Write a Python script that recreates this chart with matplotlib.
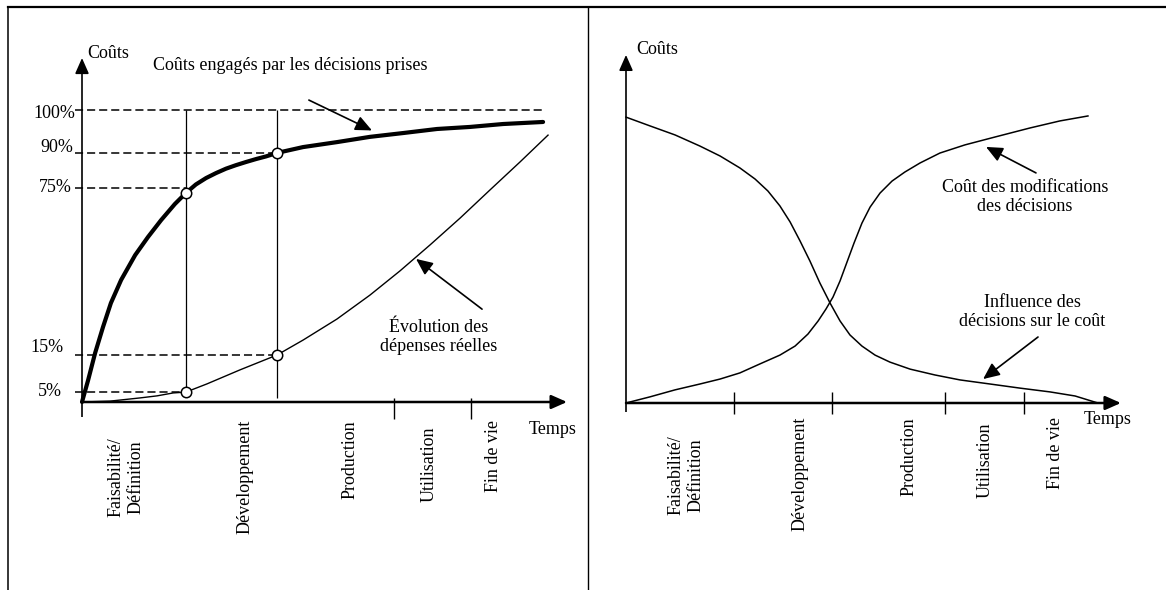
import matplotlib.pyplot as plt

plt.rcParams['font.family'] = ['Liberation Serif', 'DejaVu Serif']
plt.rcParams['font.size'] = 13

W, H = 1166, 590
PX = 2.92  # pixels per data unit (both panels)

# ---------------- data: left panel (coûts engagés / dépenses réelles) ----------------
phase_names = ['Faisabilité/\nDéfinition', 'Développement', 'Production', 'Utilisation', 'Fin de vie']
left_bounds = [35.6, 66.8, 106.8, 133.2]

committed_t = [0, 2.1, 4.5, 7.2, 9.9, 13.4, 18.2, 22.6, 27.1, 31.8, 35.6, 39.0, 42.5,
               45.9, 49.3, 52.7, 56.2, 59.6, 63.0, 66.8, 75.7, 87.3, 98.6, 109.9,
               121.6, 132.9, 144.2, 157.9]
committed_c = [0, 7.5, 16.8, 25.7, 33.9, 41.8, 50.3, 56.5, 62.3, 67.8, 71.6, 74.5, 76.7,
               78.4, 79.9, 81.1, 82.2, 83.2, 84.1, 85.3, 87.3, 89.0, 90.8, 92.1,
               93.5, 94.2, 95.2, 95.9]

spent_t = [0, 9.6, 19.9, 25.7, 31.2, 35.6, 42.8, 54.1, 66.8, 75.7, 87.3, 98.6,
           108.9, 119.2, 129.5, 139.7, 150.0, 159.6]
spent_c = [0, 0.3, 1.4, 2.1, 3.1, 3.4, 6.2, 11.0, 16.1, 21.2, 28.4, 36.6,
           44.9, 53.8, 63.0, 72.6, 82.2, 91.4]

milestone_t = [35.6, 66.8]
milestone_committed = [71.6, 85.3]
milestone_spent = [3.4, 16.1]

level_labels = ['5%', '15%', '75%', '90%', '100%']
level_pos = [3.4, 16.1, 73.3, 85.3, 100.0]
level_end = [35.6, 66.8, 35.6, 66.8, 157.5]

# ---------------- data: right panel (influence / coût des modifications) ----------------
right_bounds = [37.0, 70.5, 109.2, 136.3]

influence_t = [0, 8.2, 16.8, 25.3, 32.2, 39.0, 44.2, 48.6, 52.7, 56.2, 59.6, 63.0, 66.4,
               69.9, 73.3, 76.7, 80.8, 85.3, 90.4, 97.3, 105.8, 114.4, 124.7, 134.9,
               145.2, 153.8, 161.6]
influence_c = [97.9, 94.9, 91.8, 88.0, 84.6, 80.5, 76.7, 72.6, 67.5, 62.0, 55.5, 48.6, 41.1,
               34.2, 28.1, 23.3, 19.5, 16.4, 14.0, 11.6, 9.6, 7.9, 6.5, 5.1,
               3.8, 2.4, 0]

modif_t = [0, 8.2, 16.8, 25.3, 32.2, 39.0, 45.9, 52.7, 57.9, 62.3, 65.8, 68.5, 70.9,
           73.3, 75.7, 78.1, 80.8, 83.6, 87.0, 91.1, 95.5, 100.7, 107.5, 116.1,
           126.4, 138.4, 148.6, 158.2]
modif_c = [0, 2.1, 4.5, 6.5, 8.2, 10.3, 13.4, 16.4, 19.5, 23.6, 28.1, 32.2, 36.3,
           41.8, 48.3, 54.8, 61.6, 67.1, 71.9, 76.0, 79.1, 82.2, 85.6, 88.4,
           91.1, 94.2, 96.6, 98.3]


fig = plt.figure(figsize=(W / 100, H / 100), dpi=100)

# background axes in pixel coordinates: frame and labels
bg = fig.add_axes([0, 0, 1, 1])
bg.set_xlim(0, W)
bg.set_ylim(H, 0)
bg.axis('off')
bg.plot([8, W], [7, 7], color='k', lw=1.6)
bg.plot([8, 8], [7, H], color='k', lw=1.1)
bg.plot([588, 588], [7, H], color='k', lw=1.0)


def panel(x0, x1, origin):
    ox, oy = origin
    ax = fig.add_axes([x0 / W, 0, (x1 - x0) / W, 1])
    ax.set_xlim((x0 - ox) / PX, (x1 - ox) / PX)
    ax.set_ylim((oy - H) / PX, oy / PX)
    ax.axis('off')
    ax.patch.set_alpha(0)
    return ax


def axis_arrows(ax, x_end, y_end, lw_x, lw_y):
    head = '-|>,head_length=0.95,head_width=0.42'
    ax.annotate('', xy=(x_end, 0), xytext=(0, 0),
                arrowprops=dict(arrowstyle=head, mutation_scale=10, lw=lw_x,
                                color='k', shrinkA=0, shrinkB=0))
    ax.annotate('', xy=(0, y_end), xytext=(0, 0),
                arrowprops=dict(arrowstyle=head, mutation_scale=10, lw=lw_y,
                                color='k', shrinkA=0, shrinkB=0))


def pointer(ax, tail, tip):
    ax.annotate('', xy=tip, xytext=tail,
                arrowprops=dict(arrowstyle='-|>,head_length=1.0,head_width=0.45',
                                mutation_scale=10, lw=1.2, color='k',
                                shrinkA=0, shrinkB=0))


# ---------------- left panel ----------------
axl = panel(0, 588, (82, 402))
axis_arrows(axl, 166.1, 117.8, 1.8, 1.2)
axl.vlines([0], -5.1, 0, color='k', lw=1.2)
axl.vlines(left_bounds[2:], -5.8, 1.4, color='k', lw=1.0)

# dashed reference levels
for pos, end in zip(level_pos, level_end):
    axl.plot([-2.5, end], [pos, pos], color='k', lw=1.1, linestyle=(0, (5.3, 2.6)))

axl.vlines(milestone_t[0], milestone_spent[0], 100, color='k', lw=0.9)
axl.vlines(milestone_t[1], 1.4, 100, color='k', lw=0.9)

axl.plot(spent_t, spent_c, color='k', lw=1.0)
axl.plot(committed_t, committed_c, color='k', lw=3.0, solid_capstyle='round',
         solid_joinstyle='round')
axl.plot(milestone_t, milestone_committed, 'o', ms=7.5, mfc='white', mec='k', mew=1.1)
axl.plot(milestone_t, milestone_spent, 'o', ms=7.5, mfc='white', mec='k', mew=1.1)

pointer(axl, (77.7, 103.4), (99.3, 93.0))
pointer(axl, (137.0, 31.8), (114.4, 49.0))

# percentage labels (right edge, centre y in pixels)
label_x = [62, 64, 72, 73, 75]
label_y = [391, 348, 188, 147, 113]
for lab, x, y in zip(level_labels, label_x, label_y):
    bg.text(x, y, lab, ha='right', va='center')

bg.text(87, 53, 'Coûts', ha='left', va='center')
bg.text(290, 65, 'Coûts engagés par les décisions prises', ha='center', va='center')
bg.text(439, 337, 'Évolution des\ndépenses réelles', ha='center', va='center',
        multialignment='center')
bg.text(553, 430, 'Temps', ha='center', va='center')

left_label_x = [126, 245, 350, 429, 493]
left_label_top = [437, 420, 420, 427, 420]
for name, x, y in zip(phase_names, left_label_x, left_label_top):
    bg.text(x, y, name, rotation=90, ha='center', va='top', multialignment='center')

# ---------------- right panel ----------------
axr = panel(588, W, (626, 403))
axis_arrows(axr, 169.5, 119.2, 1.8, 1.2)
axr.vlines([0], -3.0, 0, color='k', lw=1.2)
axr.vlines(right_bounds, -3.8, 3.8, color='k', lw=1.0)

axr.plot(influence_t, influence_c, color='k', lw=1.1)
axr.plot(modif_t, modif_c, color='k', lw=1.1)

pointer(axr, (140.4, 78.8), (123.3, 87.7))
pointer(axr, (141.1, 22.6), (122.3, 8.2))

bg.text(636, 50, 'Coûts', ha='left', va='center')
bg.text(1025, 197, 'Coût des modifications\ndes décisions', ha='center', va='center',
        multialignment='center')
bg.text(1032, 312, 'Influence des\ndécisions sur le coût', ha='center', va='center',
        multialignment='center')
bg.text(1108, 420, 'Temps', ha='center', va='center')

right_label_x = [686, 800, 909, 985, 1056]
right_label_top = [435, 417, 417, 423, 417]
for name, x, y in zip(phase_names, right_label_x, right_label_top):
    bg.text(x, y, name, rotation=90, ha='center', va='top', multialignment='center')

fig.savefig('out.png', dpi=100)
